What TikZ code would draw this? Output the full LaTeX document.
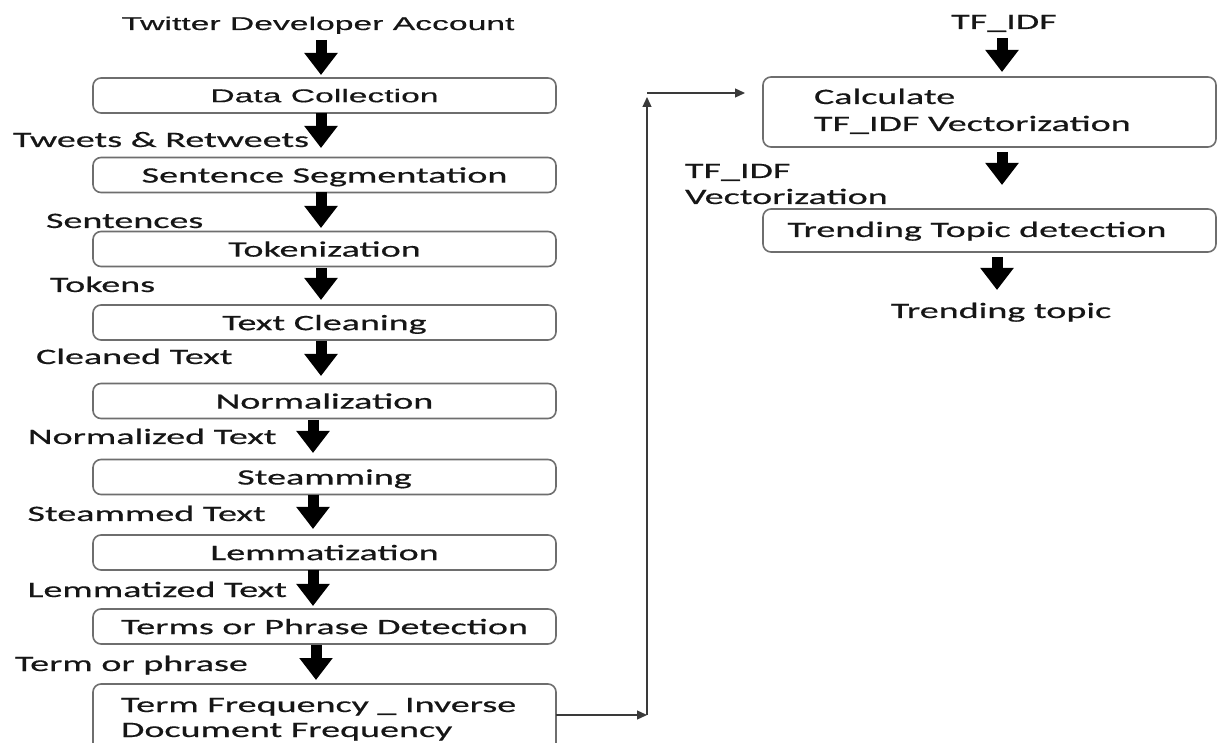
\documentclass[tikz,border=0pt]{standalone}
\usepackage{fontspec}
\setmainfont{Carlito}[FakeStretch=1.73,FakeBold=0.5]
\newfontfamily\arialf{Liberation Sans}[FakeStretch=1.82,FakeBold=0.4]
\usetikzlibrary{arrows.meta}
\definecolor{boxline}{HTML}{6E6E6E}
\definecolor{thinline}{HTML}{3A3A3A}
\definecolor{txt}{HTML}{161616}
\begin{document}
\begin{tikzpicture}[x=1pt,y=1pt,
  every node/.style={inner sep=0pt, outer sep=0pt, text=txt},
  cal/.style={font=\fontsize{22}{26}\selectfont},
  ari/.style={font=\arialf\fontsize{18.5}{22}\selectfont},
  procbox/.style={draw=boxline, line width=1.6pt, rounded corners=8pt, minimum width=463pt, minimum height=35pt, text depth=0pt},
  rbox/.style={draw=boxline, line width=1.6pt, rounded corners=8pt, minimum width=453pt},
  bigarr/.style={line width=11pt, -{Triangle[length=22pt,width=32pt]}},
  thinarr/.style={draw=thinline, line width=1.3pt, -{Triangle[length=10pt,width=9pt]}},
]
\useasboundingbox (0,0) rectangle (1218,742);
\fill[white] (0,0) rectangle (1218,742);

% left column boxes
\node[procbox, ari] (dc) at (324.5, 646.5) {Data Collection};
\node[procbox, cal] (ss) at (324.5, 567) {Sentence Segmentation};
\node[procbox, cal] (tok) at (324.5, 493) {Tokenization};
\node[procbox, cal] (tc) at (324.5, 419.5) {Text Cleaning};
\node[procbox, cal] (norm) at (324.5, 341) {Normalization};
\node[procbox, cal] (steam) at (324.5, 265) {Steamming};
\node[procbox, cal] (lem) at (324.5, 189.5) {Lemmatization};
\node[procbox, cal] (terms) at (324.5, 115.5) {Terms or Phrase Detection};
\node[procbox, minimum height=80pt] (tfidf) at (324.5, 18) {};
\node[cal, anchor=base west] (tf1) at (121, 30) {Term Frequency \_ Inverse};
\node[cal, anchor=base west] (tf2) at (121, 5) {Document Frequency};

% left labels
\node[ari, anchor=base] (tw) at (318, 712) {Twitter Developer Account};
\node[cal, anchor=base west] (l1) at (13, 595) {Tweets \& Retweets};
\node[cal, anchor=base west] (l2) at (46, 514) {Sentences};
\node[cal, anchor=base west] (l3) at (50, 450) {Tokens};
\node[cal, anchor=base west] (l4) at (36, 378) {Cleaned Text};
\node[cal, anchor=base west] (l5) at (28, 298) {Normalized Text};
\node[cal, anchor=base west] (l6) at (27.5, 221) {Steammed Text};
\node[cal, anchor=base west] (l7) at (27.5, 145) {Lemmatized Text};
\node[cal, anchor=base west] (l8) at (15, 71) {Term or phrase};

% left arrows
\draw[bigarr] ([xshift=3pt,yshift=-10pt]tw.base) -- ([xshift=-3.5pt,yshift=3pt]dc.north);
\draw[bigarr] ([xshift=-3.5pt]dc.south) -- ([xshift=-3.5pt,yshift=9.5pt]ss.north);
\draw[bigarr] ([xshift=-3.5pt]ss.south) -- ([xshift=-3.5pt,yshift=3.5pt]tok.north);
\draw[bigarr] ([xshift=-3.5pt,yshift=-1.5pt]tok.south) -- ([xshift=-3.5pt,yshift=5pt]tc.north);
\draw[bigarr] ([xshift=-3.5pt,yshift=-1.5pt]tc.south) -- ([xshift=-3.5pt,yshift=7.5pt]norm.north);
\draw[bigarr] ([xshift=-11.5pt,yshift=-1.5pt]norm.south) -- ([xshift=-11.5pt,yshift=6.5pt]steam.north);
\draw[bigarr] ([xshift=-11.5pt,yshift=-0.5pt]steam.south) -- ([xshift=-11.5pt,yshift=6pt]lem.north);
\draw[bigarr] ([xshift=-11.5pt]lem.south) -- ([xshift=-11.5pt,yshift=3pt]terms.north);
\draw[bigarr] ([xshift=-8.5pt,yshift=-1pt]terms.south) -- ([xshift=-8.5pt,yshift=4pt]tfidf.north);

% right column
\node[cal, anchor=base] (tfi) at (1004, 713) {TF\_IDF};
\node[rbox, minimum height=70pt] (calc) at (989.5, 630) {};
\node[cal, anchor=base west] (calc1) at (814, 638) {Calculate};
\node[cal, anchor=base west] (calc2) at (814, 611) {TF\_IDF Vectorization};
\node[cal, anchor=base west] (v1) at (685, 564) {TF\_IDF};
\node[cal, anchor=base west] (v2) at (685, 538) {Vectorization};
\node[rbox, minimum height=43pt] (trend) at (989.5, 511.5) {};
\node[cal, anchor=base] (trendt) at (977, 505) {Trending Topic detection};
\node[cal, anchor=base] (topic) at (1001, 424) {Trending topic};

\draw[bigarr] ([xshift=-2pt,yshift=-9pt]tfi.base) -- ([xshift=12.5pt,yshift=5pt]calc.north);
\draw[bigarr] ([xshift=12.5pt,yshift=-5pt]calc.south) -- ([xshift=12.5pt,yshift=24pt]trend.north);
\draw[bigarr] ([xshift=7.5pt,yshift=-5pt]trend.south) -- ([xshift=-4pt,yshift=28pt]topic.base);

% thin connector route
\coordinate (c1) at (647, 27);
\coordinate (c2) at (647, 645);
\coordinate (c3) at (647, 649);
\draw[thinarr] ([yshift=9pt]tfidf.east) -- (c1);
\draw[thinarr] (c1) -- (c2);
\draw[thinarr, shorten >=18pt] (c3) -- (calc.west |- c3);
\end{tikzpicture}
\end{document}
